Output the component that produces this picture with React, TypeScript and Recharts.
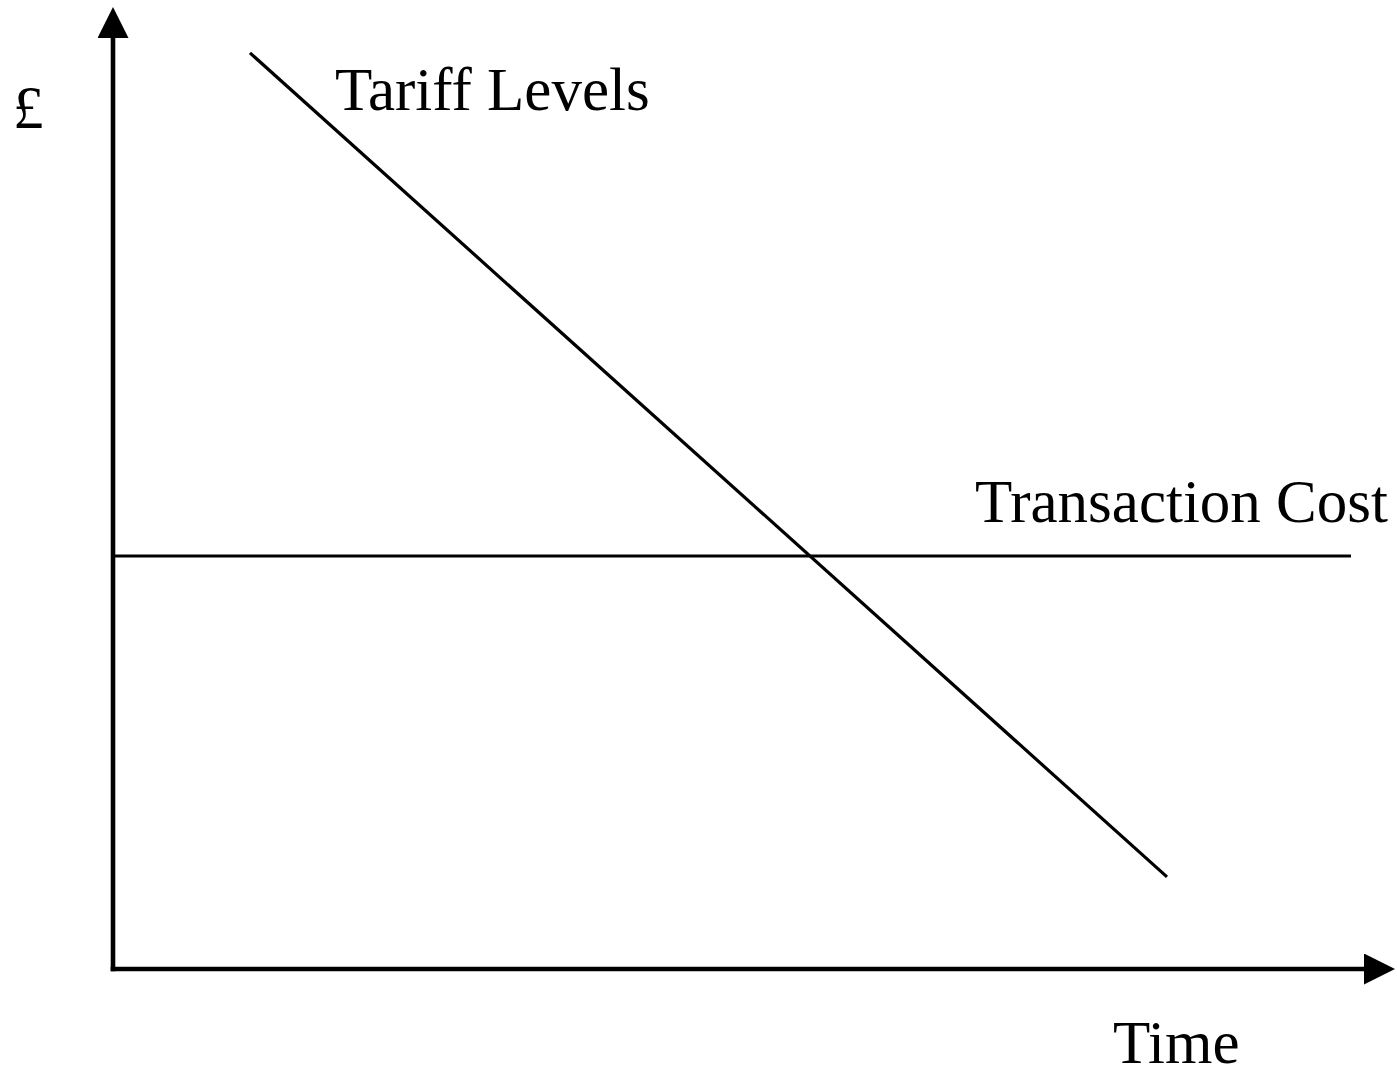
import React from "react";
import { LineChart, Line, XAxis, YAxis, Label, LabelList } from "recharts";

// time (x) / £ (y) on a 0..100 scale
const tariffTime = [10.95, 84.25];
const tariffValue = [98.4, 9.9];
const costTime = [0, 98.96];
const costValue = [44.36, 44.36];

const tariffLabel = "Tariff Levels";
const costLabel = "Transaction Cost";
const xTitle = "Time";
const yTitle = "£";

const tariffData = tariffTime.map((t, i) => ({ t, v: tariffValue[i] }));
const costData = costTime.map((t, i) => ({ t, v: costValue[i] }));

const FONT = "'Liberation Serif', 'Times New Roman', serif";
const textStyle = { fontFamily: FONT, fontSize: 61, fill: "#000" };

const axisLine = {
  stroke: "#000",
  strokeWidth: 4.6,
  strokeLinecap: "square" as const,
};

export default function App() {
  return (
    <div style={{ position: "absolute", left: 0, top: 0, background: "#fff" }}>
      <LineChart
        width={1397}
        height={1077}
        margin={{ top: 38, right: 33, bottom: 107, left: 112 }}
      >
        <defs>
          <marker
            id="arrow"
            markerUnits="userSpaceOnUse"
            markerWidth={32}
            markerHeight={32}
            refX={0}
            refY={15.5}
            orient="auto-start-reverse"
          >
            <path d="M0,0 L31,15.5 L0,31 Z" fill="#000" />
          </marker>
        </defs>
        <XAxis
          type="number"
          dataKey="t"
          domain={[0, 100]}
          allowDataOverflow
          height={1}
          tick={false}
          tickLine={false}
          axisLine={{ ...axisLine, markerEnd: "url(#arrow)" }}
        >
          <Label
            content={({ viewBox }: any) => (
              <text
                x={viewBox.x + viewBox.width - 251}
                y={viewBox.y + 94}
                style={textStyle}
              >
                {xTitle}
              </text>
            )}
          />
        </XAxis>
        <YAxis
          type="number"
          dataKey="v"
          domain={[0, 100]}
          allowDataOverflow
          width={1}
          tick={false}
          tickLine={false}
          axisLine={{ ...axisLine, markerStart: "url(#arrow)" }}
        >
          <Label
            content={({ viewBox }: any) => (
              <text x={viewBox.x - 99} y={viewBox.y + 90} style={textStyle}>
                {yTitle}
              </text>
            )}
          />
        </YAxis>
        <Line
          data={tariffData}
          dataKey="v"
          stroke="#000"
          strokeWidth={3.2}
          dot={false}
          isAnimationActive={false}
        >
          <LabelList
            dataKey="v"
            content={({ x, y, index }: any) =>
              index === 0 ? (
                <text x={x + 85} y={y + 57} style={textStyle}>
                  {tariffLabel}
                </text>
              ) : null
            }
          />
        </Line>
        <Line
          data={costData}
          dataKey="v"
          stroke="#000"
          strokeWidth={3}
          dot={false}
          isAnimationActive={false}
        >
          <LabelList
            dataKey="v"
            content={({ x, y, index }: any) =>
              index === 1 ? (
                <text
                  x={x + 37}
                  y={y - 34}
                  textAnchor="end"
                  style={textStyle}
                >
                  {costLabel}
                </text>
              ) : null
            }
          />
        </Line>
      </LineChart>
    </div>
  );
}
